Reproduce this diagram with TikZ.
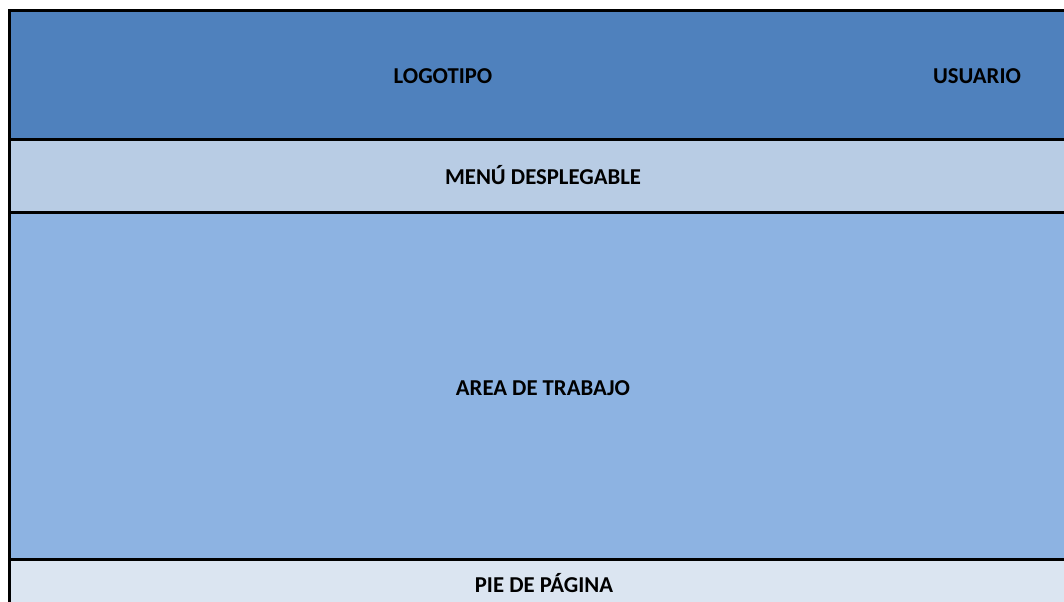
\documentclass[tikz,border=0pt]{standalone}
\usepackage{fontspec}
\setmainfont{Carlito}
\definecolor{hdr}{HTML}{4F81BD}
\definecolor{menu}{HTML}{B8CCE4}
\definecolor{work}{HTML}{8DB3E2}
\definecolor{foot}{HTML}{DBE5F1}
\tikzset{
  lbl/.style={font=\fontsize{22.8}{26}\selectfont\bfseries, text=black, inner sep=0pt, anchor=base},
  sep/.style={line width=3bp, draw=black},
}
\begin{document}
\begin{tikzpicture}[x=1bp, y=-1bp]
\useasboundingbox (0,0) rectangle (1064,602);
\fill[hdr] (9.5,10.5) rectangle (1064,139.5);
\fill[menu] (9.5,139.5) rectangle (1064,212.5);
\fill[work] (9.5,212.5) rectangle (1064,559);
\fill[foot] (9.5,559) rectangle (1064,602);
\coordinate (tl) at (9.5,10.5);
\coordinate (tr) at (1064,10.5);
\coordinate (bl) at (9.5,602);
\coordinate (l1) at (9.5,139.5);
\coordinate (r1) at (1064,139.5);
\coordinate (l2) at (9.5,212.5);
\coordinate (r2) at (1064,212.5);
\coordinate (l3) at (9.5,559);
\coordinate (r3) at (1064,559);
\draw[sep] (tr) -- (tl) -- (bl);
\draw[sep] (l1) -- (r1);
\draw[sep] (l2) -- (r2);
\draw[sep] (l3) -- (r3);
\node[lbl] (logo) at (443,84) {LOGOTIPO};
\node[lbl] (user) at (977,84) {USUARIO};
\node[lbl] (menuL) at (543,185) {MENÚ DESPLEGABLE};
\node[lbl] (area) at (543,395) {AREA DE TRABAJO};
\node[lbl] (pie) at (544,592) {PIE DE PÁGINA};
\end{tikzpicture}
\end{document}
